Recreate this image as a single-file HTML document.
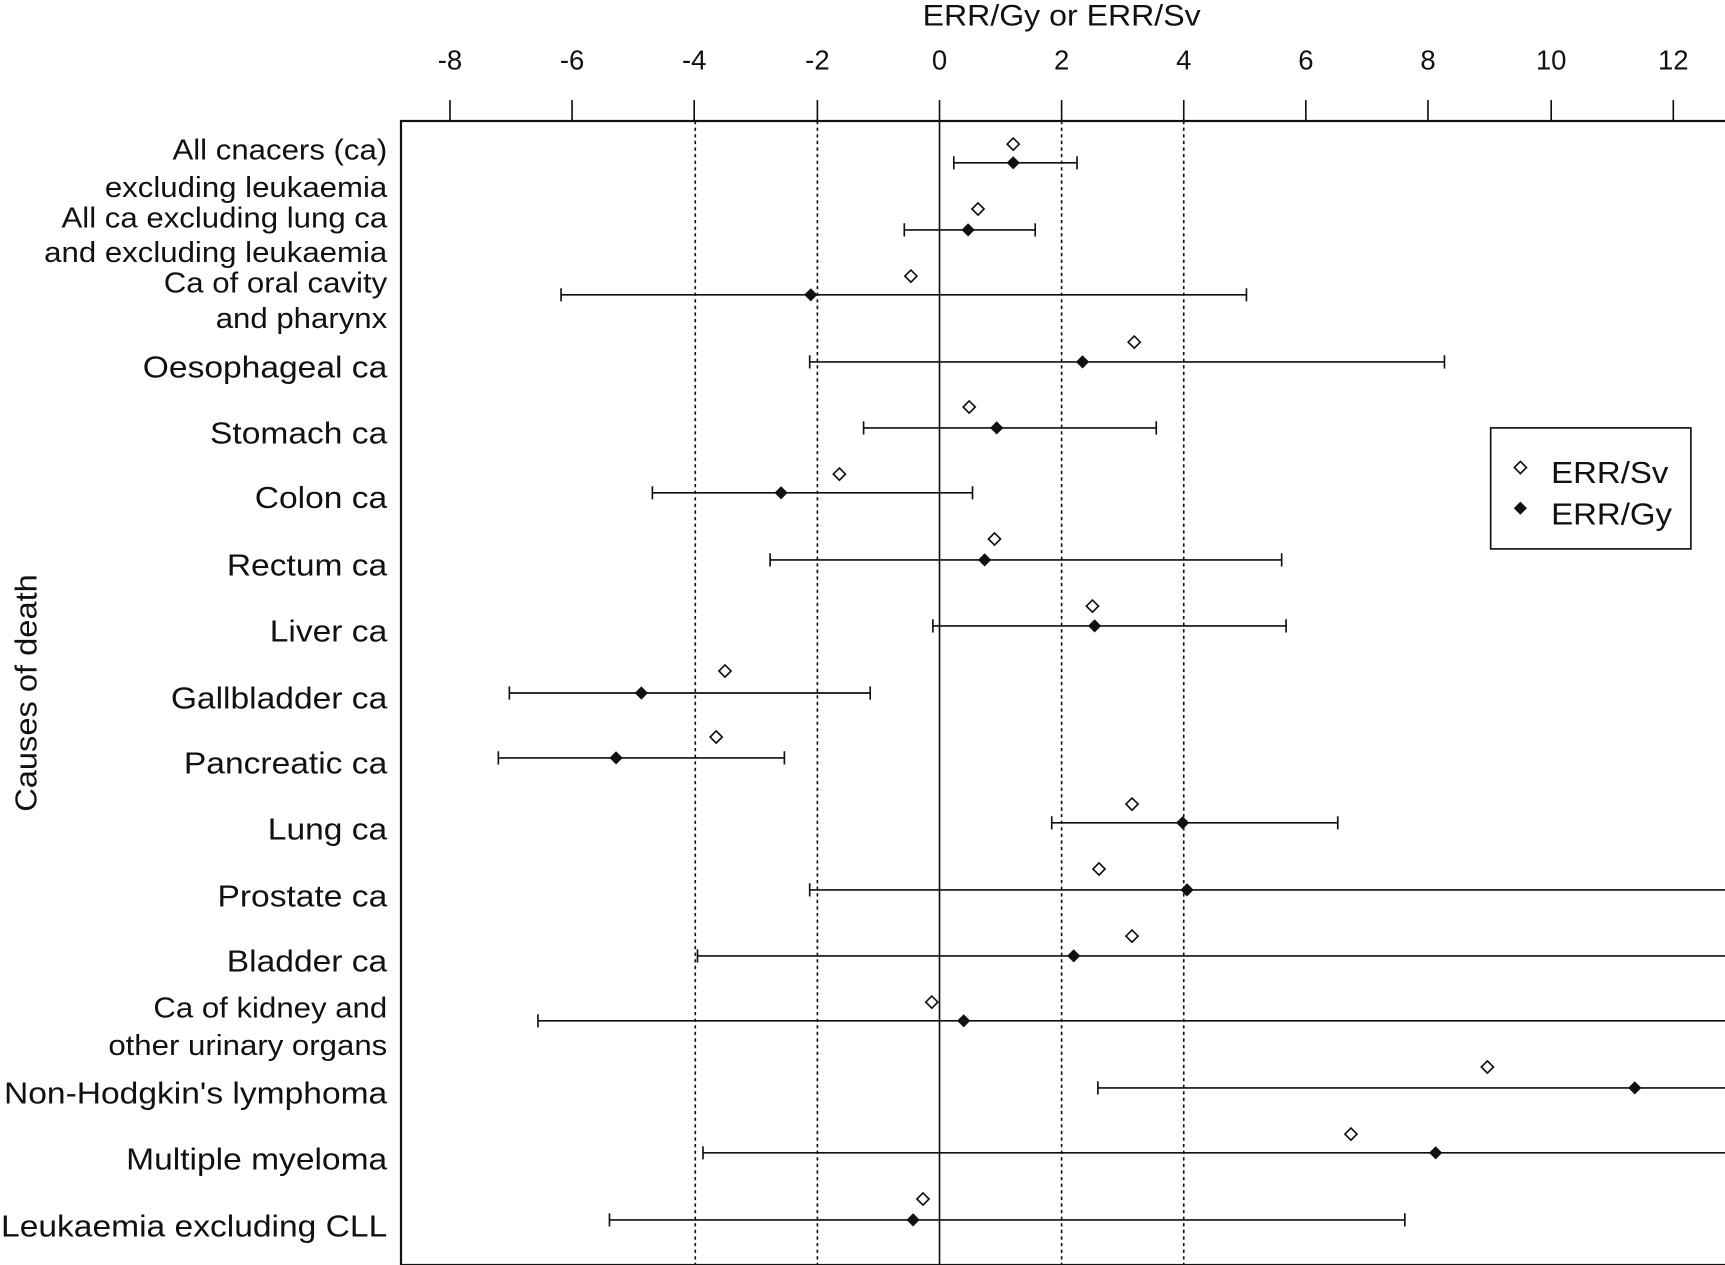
<!DOCTYPE html>
<html><head><meta charset="utf-8"><style>
html,body{margin:0;padding:0;background:#fff;}
svg{display:block;}
text{font-family:"Liberation Sans",sans-serif;fill:#111;}
</style></head><body>
<svg width="1725" height="1265" viewBox="0 0 1568 1150" preserveAspectRatio="none" xmlns="http://www.w3.org/2000/svg">
<rect x="0" y="0" width="1568" height="1150" fill="#fff"/>
<g transform="translate(965,0) scale(1.08,1) translate(-965,0)">
<text x="965" y="23" font-size="27" text-anchor="middle">ERR/Gy or ERR/Sv</text>
</g>
<g font-size="25" text-anchor="middle">
<text x="409" y="63">-8</text><text x="520" y="63">-6</text><text x="631" y="63">-4</text><text x="743" y="63">-2</text><text x="854" y="63">0</text><text x="965" y="63">2</text><text x="1076" y="63">4</text><text x="1187" y="63">6</text><text x="1298" y="63">8</text><text x="1410" y="63">10</text><text x="1521" y="63">12</text>
</g>
<g stroke="#111" stroke-width="1.5">
<line x1="409" y1="91" x2="409" y2="110"/><line x1="520" y1="91" x2="520" y2="110"/><line x1="631" y1="91" x2="631" y2="110"/><line x1="743" y1="91" x2="743" y2="110"/><line x1="854" y1="91" x2="854" y2="110"/><line x1="965" y1="91" x2="965" y2="110"/><line x1="1076" y1="91" x2="1076" y2="110"/><line x1="1187" y1="91" x2="1187" y2="110"/><line x1="1298" y1="91" x2="1298" y2="110"/><line x1="1410" y1="91" x2="1410" y2="110"/><line x1="1521" y1="91" x2="1521" y2="110"/>
<rect x="364.5" y="110" width="1210" height="1040" fill="none" stroke-width="2"/>
<line x1="854" y1="110" x2="854" y2="1150"/>
</g>
<g stroke="#111" stroke-width="1.5" stroke-dasharray="3,3">
<line x1="632" y1="110" x2="632" y2="1150"/><line x1="743" y1="110" x2="743" y2="1150"/><line x1="965" y1="110" x2="965" y2="1150"/><line x1="1076" y1="110" x2="1076" y2="1150"/>
</g>
<g font-size="26" text-anchor="end" transform="translate(352,0) scale(1.09,1) translate(-352,0)">
<text x="352" y="145">All cnacers (ca)</text><text x="352" y="179">excluding leukaemia</text>
<text x="352" y="207">All ca excluding lung ca</text><text x="352" y="238">and excluding leukaemia</text>
<text x="352" y="266">Ca of oral cavity</text><text x="352" y="298">and pharynx</text>
<text x="352" y="343" font-size="28">Oesophageal ca</text>
<text x="352" y="403" font-size="28">Stomach ca</text>
<text x="352" y="462" font-size="28">Colon ca</text>
<text x="352" y="523" font-size="28">Rectum ca</text>
<text x="352" y="583" font-size="28">Liver ca</text>
<text x="352" y="644" font-size="28">Gallbladder ca</text>
<text x="352" y="703" font-size="28">Pancreatic ca</text>
<text x="352" y="763" font-size="28">Lung ca</text>
<text x="352" y="824" font-size="28">Prostate ca</text>
<text x="352" y="883" font-size="28">Bladder ca</text>
<text x="352" y="925">Ca of kidney and</text><text x="352" y="959">other urinary organs</text>
<text x="352" y="1003" font-size="28">Non-Hodgkin's lymphoma</text>
<text x="352" y="1063" font-size="28">Multiple myeloma</text>
<text x="352" y="1124" font-size="28">Leukaemia excluding CLL</text>
</g>
<text transform="translate(33,630) rotate(-90) scale(1.06,1)" font-size="28" text-anchor="middle">Causes of death</text>
<defs>
<path id="fd" d="M0,-6 L6,0 L0,6 L-6,0 Z" fill="#111"/>
<path id="od" d="M0,-5.5 L5.5,0 L0,5.5 L-5.5,0 Z" fill="#fff" stroke="#111" stroke-width="1.5"/>
</defs>
<g stroke="#111" stroke-width="1.5">
<path d="M867,148H979M867,142V154M979,142V154"/>
<path d="M822,209H941M822,203V215M941,203V215"/>
<path d="M510,268H1133M510,262V274M1133,262V274"/>
<path d="M736,329H1313M736,323V335M1313,323V335"/>
<path d="M785,389H1051M785,383V395M1051,383V395"/>
<path d="M593,448H884M593,442V454M884,442V454"/>
<path d="M700,509H1165M700,503V515M1165,503V515"/>
<path d="M848,569H1169M848,563V575M1169,563V575"/>
<path d="M463,630H791M463,624V636M791,624V636"/>
<path d="M453,689H713M453,683V695M713,683V695"/>
<path d="M956,748H1216M956,742V754M1216,742V754"/>
<path d="M736,809H1568M736,803V815"/>
<path d="M634,869H1568M634,863V875"/>
<path d="M489,928H1568M489,922V934"/>
<path d="M998,989H1568M998,983V995"/>
<path d="M639,1048H1568M639,1042V1054"/>
<path d="M554,1109H1277M554,1103V1115M1277,1103V1115"/>
</g>
<use href="#fd" x="921" y="148"/><use href="#od" x="921" y="131"/>
<use href="#fd" x="880" y="209"/><use href="#od" x="889" y="190"/>
<use href="#fd" x="737" y="268"/><use href="#od" x="828" y="251"/>
<use href="#fd" x="984" y="329"/><use href="#od" x="1031" y="311"/>
<use href="#fd" x="906" y="389"/><use href="#od" x="881" y="370"/>
<use href="#fd" x="710" y="448"/><use href="#od" x="763" y="431"/>
<use href="#fd" x="895" y="509"/><use href="#od" x="904" y="490"/>
<use href="#fd" x="995" y="569"/><use href="#od" x="993" y="551"/>
<use href="#fd" x="583" y="630"/><use href="#od" x="659" y="610"/>
<use href="#fd" x="560" y="689"/><use href="#od" x="651" y="670"/>
<use href="#fd" x="1075" y="748"/><use href="#od" x="1029" y="731"/>
<use href="#fd" x="1079" y="809"/><use href="#od" x="999" y="790"/>
<use href="#fd" x="976" y="869"/><use href="#od" x="1029" y="851"/>
<use href="#fd" x="876" y="928"/><use href="#od" x="847" y="911"/>
<use href="#fd" x="1486" y="989"/><use href="#od" x="1352" y="970"/>
<use href="#fd" x="1305" y="1048"/><use href="#od" x="1228" y="1031"/>
<use href="#fd" x="830" y="1109"/><use href="#od" x="839" y="1090"/>
<rect x="1355" y="389" width="182" height="110" fill="#fff" stroke="#111" stroke-width="1.5"/>
<use href="#od" x="1382" y="425"/><use href="#fd" x="1382" y="462"/>
<g transform="translate(1410,0) scale(1.07,1) translate(-1410,0)">
<text x="1410" y="439" font-size="28">ERR/Sv</text>
<text x="1410" y="477" font-size="28">ERR/Gy</text>
</g>
</svg>
</body></html>
